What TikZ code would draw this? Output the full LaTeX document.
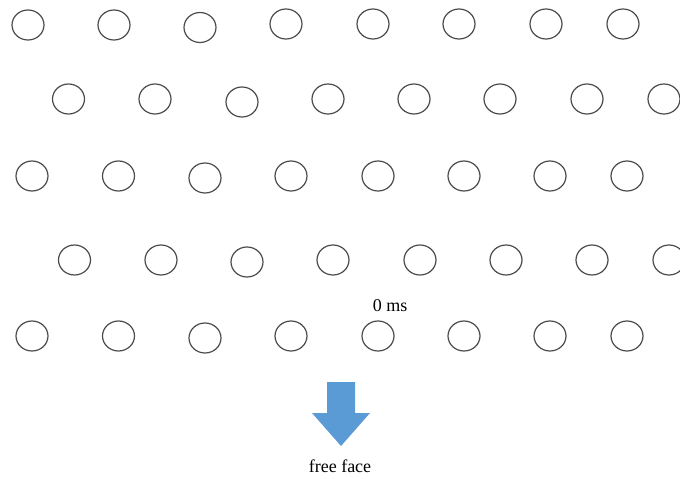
\documentclass[tikz,border=0pt]{standalone}
\usepackage{fontspec}
\setmainfont{Liberation Serif}
\usetikzlibrary{shapes.geometric}
\definecolor{ringgray}{HTML}{4A4A4A}
\definecolor{arrowblue}{HTML}{5B9BD5}
\tikzset{
  hole/.style={ellipse, draw=ringgray, line width=1.2pt, minimum width=32pt, minimum height=30pt, inner sep=0pt},
  lbl/.style={font=\fontsize{18}{21}\selectfont, inner sep=0pt}
}
\begin{document}
\begin{tikzpicture}[x=1pt,y=-1pt]
\useasboundingbox (0,0) rectangle (680,479);
% row 1
\foreach \x/\y [count=\i] in {28/25,114/25,200/27.5,286/24,373/24,459/24,546/24,623/24}
  \node[hole] (a\i) at (\x,\y) {};
% row 2
\foreach \x/\y [count=\i] in {68.5/99,155/99,242/102,328/99,414/99,500/99,587/99,664/99}
  \node[hole] (b\i) at (\x,\y) {};
% row 3
\foreach \x/\y [count=\i] in {32/176,118.5/176,205/178,291/176,378/176,464/176,550/176,627/176}
  \node[hole] (c\i) at (\x,\y) {};
% row 4
\foreach \x/\y [count=\i] in {74.5/260,161/260,247/262,333/260,420/260,506/260,592/260,669/260}
  \node[hole] (d\i) at (\x,\y) {};
% row 5
\foreach \x/\y [count=\i] in {32/336,118.5/336,205/338,291/336,378/336,464/336,550/336,627/336}
  \node[hole] (e\i) at (\x,\y) {};
\node[lbl] (t0) at (390,306) {0 ms};
\fill[arrowblue] (327,382) -- (355,382) -- (355,413) -- (370,413) -- (341,446) -- (312,413) -- (327,413) -- cycle;
\node[lbl] (ff) at (340,466) {free face};
\end{tikzpicture}
\end{document}
